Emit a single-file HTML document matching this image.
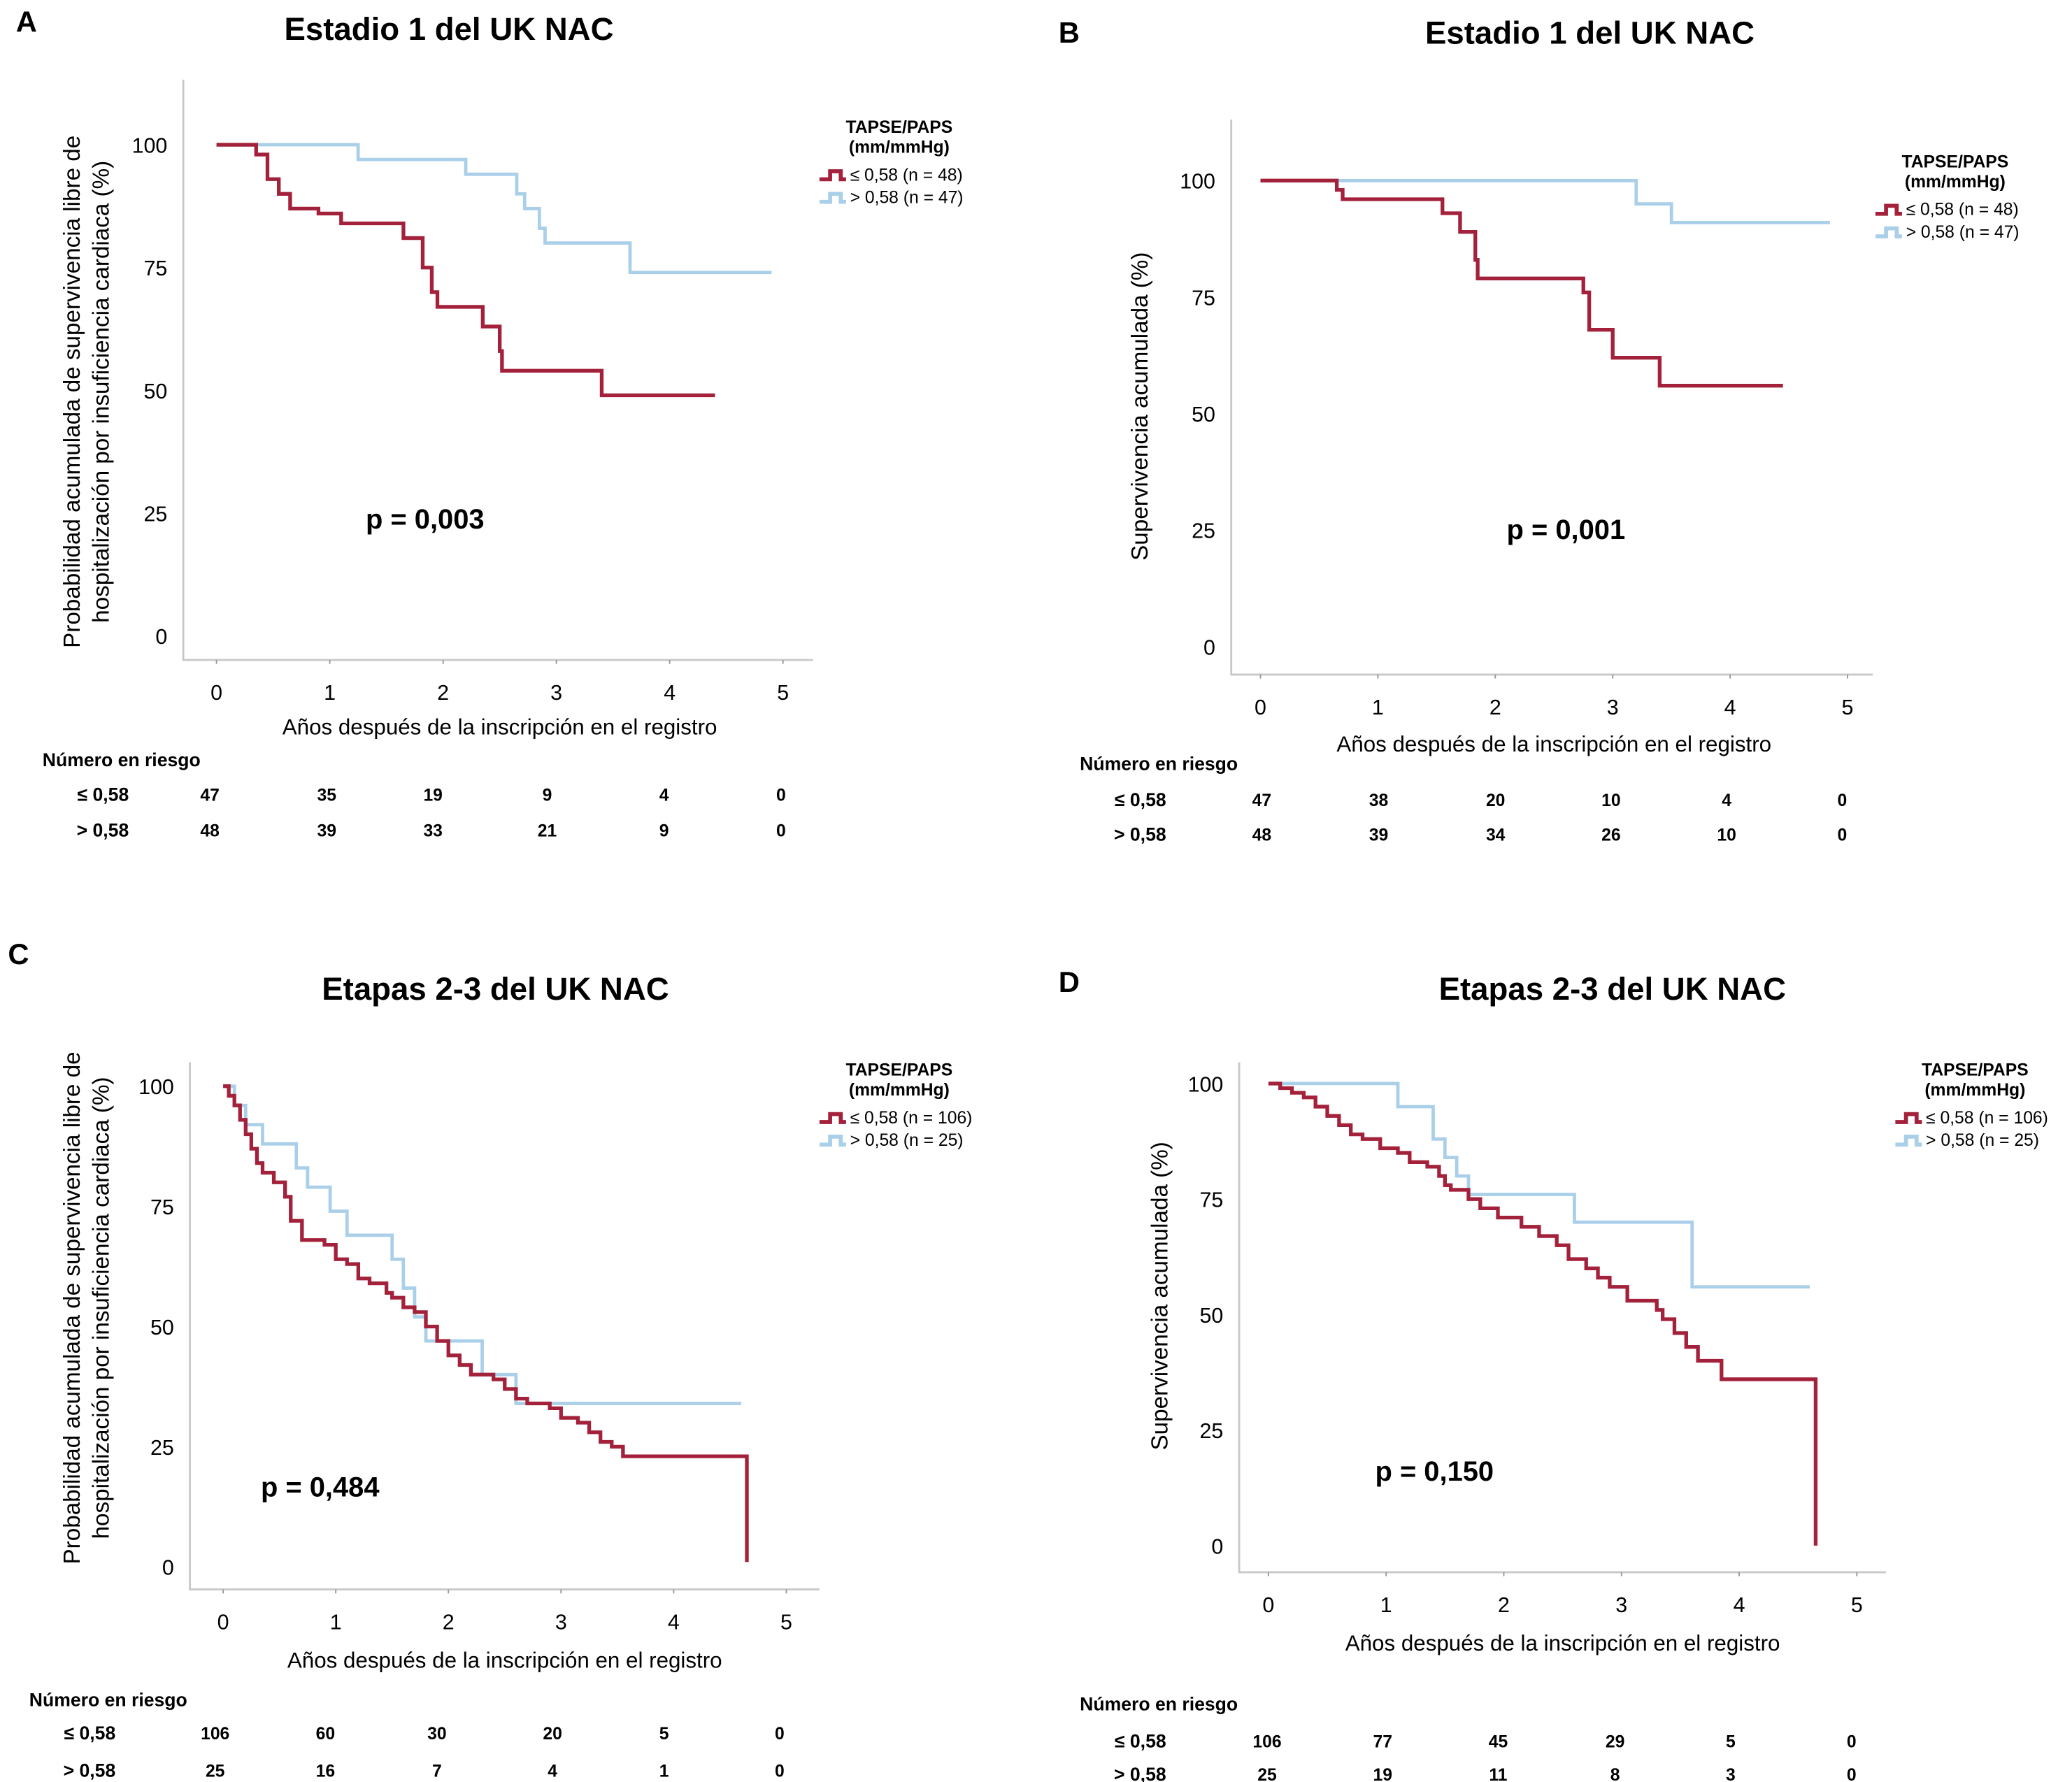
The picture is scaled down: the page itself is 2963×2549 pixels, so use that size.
<!DOCTYPE html>
<html><head><meta charset="utf-8"><style>
html,body{margin:0;padding:0;background:#fff}
svg{display:block;font-family:"Liberation Sans",Arial,sans-serif}
</style></head><body>
<svg id="fig" width="2963" height="2549" viewBox="0 0 1560 1342" preserveAspectRatio="none" xmlns="http://www.w3.org/2000/svg"></svg>
<script>
// ---- data ----
const xTicks = [0,1,2,3,4,5];
const yTicks = [0,25,50,75,100];
const aRedT = [0,0.35,0.45,0.55,0.65,0.9,1.1,1.65,1.82,1.9,1.95,2.35,2.5,2.52,3.4,4.4];
const aRedS = [100,98,93,90,87,86,84,81,75,70,67,63,58,54,49,49];
const aBlueT = [0,1.25,2.2,2.65,2.72,2.85,2.9,3.65,4.9];
const aBlueS = [100,97,94,90,87,83,80,74,74];
const bRedT = [0,0.65,0.7,1.55,1.7,1.83,1.85,2.75,2.8,3.0,3.4,4.45];
const bRedS = [100,98,96,93,89,83,79,76,68,62,56,56];
const bBlueT = [0,3.2,3.5,4.85];
const bBlueS = [100,95,91,91];
const cRedT = [0,0.05,0.1,0.15,0.2,0.25,0.3,0.35,0.45,0.55,0.6,0.7,0.9,1.0,1.1,1.2,1.3,1.45,1.5,1.6,1.7,1.8,1.9,2.0,2.1,2.2,2.4,2.5,2.6,2.7,2.9,3.0,3.15,3.25,3.35,3.45,3.55,4.65];
const cRedS = [100,98,96,93,90,87,84,82,80,77,72,68,67,64,63,60,59,57,56,54,53,50,47,44,42,40,39,37,35,34,33,31,30,28,26,25,23,1];
const cBlueT = [0,0.1,0.2,0.35,0.65,0.75,0.95,1.1,1.5,1.6,1.7,1.8,2.3,2.6,4.6];
const cBlueS = [100,96,92,88,83,79,74,69,64,58,52,47,40,34,34];
const dRedT = [0,0.1,0.2,0.3,0.4,0.5,0.6,0.7,0.8,0.95,1.1,1.2,1.35,1.45,1.5,1.55,1.7,1.8,1.95,2.15,2.3,2.45,2.55,2.7,2.8,2.9,3.05,3.3,3.35,3.45,3.55,3.65,3.85,4.65];
const dRedS = [100,99,98,97,95,93,91,89,88,86,85,83,82,80,78,77,75,73,71,69,67,65,62,60,58,56,53,51,49,46,43,40,36,0];
const dBlueT = [0,1.1,1.4,1.5,1.6,1.7,2.6,3.6,4.6];
const dBlueS = [100,95,88,84,80,76,70,56,56];
const aRiskLow = ["47","35","19","9","4","0"];
const aRiskHigh = ["48","39","33","21","9","0"];
const bRiskLow = ["47","38","20","10","4","0"];
const bRiskHigh = ["48","39","34","26","10","0"];
const cRiskLow = ["106","60","30","20","5","0"];
const cRiskHigh = ["25","16","7","4","1","0"];
const dRiskLow = ["106","77","45","29","5","0"];
const dRiskHigh = ["25","19","11","8","3","0"];

const NS="http://www.w3.org/2000/svg";
const svg=document.getElementById('fig');
function el(tag,attrs,parent,text){const e=document.createElementNS(NS,tag);for(const k in attrs)e.setAttribute(k,attrs[k]);if(text!==undefined)e.textContent=text;(parent||svg).appendChild(e);return e;}

const panels=[
 {id:'a',letter:'A',lx:12,ly:24,title:'Estadio 1 del UK NAC',tx:338,ty:30,x0:163,xs:85.3,y100:109,y0:479,axL:138,axT:60,axB:497,axR:612,
  red:[aRedT,aRedS],blue:[aBlueT,aBlueS],p:'p = 0,003',px:320,py:398,
  ytitle:['Probabilidad acumulada de supervivencia libre de','hospitalización por insuficiencia cardiaca (%)'],ytx:[60,82],yty:295,
  xtitleY:553,legX:615,legY:100,nBlue:'47',nRed:'48',riskY:577,riskR1:603,riskR2:630,riskLabX:32,risk:[aRiskLow,aRiskHigh],riskXs:[158,246,326,412,500,588]},
 {id:'b',letter:'B',lx:797,ly:32,title:'Estadio 1 del UK NAC',tx:1197,ty:33,x0:949,xs:88.4,y100:136,y0:487,axL:927,axT:90,axB:508,axR:1410,
  red:[bRedT,bRedS],blue:[bBlueT,bBlueS],p:'p = 0,001',px:1179,py:406,
  ytitle:['Supervivencia acumulada (%)'],ytx:[864],yty:306,
  xtitleY:566,legX:1410,legY:126,nBlue:'47',nRed:'48',riskY:580,riskR1:607,riskR2:633,riskLabX:813,risk:[bRiskLow,bRiskHigh],riskXs:[950,1038,1126,1213,1300,1387]},
 {id:'c',letter:'C',lx:6,ly:726,title:'Etapas 2-3 del UK NAC',tx:373,ty:753,x0:168,xs:84.8,y100:818,y0:1180,axL:143,axT:800,axB:1197,axR:617,
  red:[cRedT,cRedS],blue:[cBlueT,cBlueS],p:'p = 0,484',px:241,py:1127,
  ytitle:['Probabilidad acumulada de supervivencia libre de','hospitalización por insuficiencia cardiaca (%)'],ytx:[60,82],yty:985,
  xtitleY:1256,legX:615,legY:810,nBlue:'25',nRed:'106',riskY:1285,riskR1:1310,riskR2:1338,riskLabX:22,risk:[cRiskLow,cRiskHigh],riskXs:[162,245,329,416,500,587]},
 {id:'d',letter:'D',lx:797,ly:747,title:'Etapas 2-3 del UK NAC',tx:1214,ty:753,x0:955,xs:88.6,y100:816,y0:1164,axL:933,axT:800,axB:1184,axR:1420,
  red:[dRedT,dRedS],blue:[dBlueT,dBlueS],p:'p = 0,150',px:1080,py:1115,
  ytitle:['Supervivencia acumulada (%)'],ytx:[879],yty:976,
  xtitleY:1243,legX:1425,legY:810,nBlue:'25',nRed:'106',riskY:1288,riskR1:1316,riskR2:1341,riskLabX:813,risk:[dRiskLow,dRiskHigh],riskXs:[954,1041,1128,1216,1303,1394]}
];

function stepPath(T,S,xf,yf){let d='M'+xf(T[0])+','+yf(S[0]);for(let i=1;i<T.length;i++){d+=' H'+xf(T[i])+' V'+yf(S[i]);}return d;}

panels.forEach(p=>{
  const g=el('g',{});
  
  
  const xf=t=>p.x0+t*p.xs, yf=s=>p.y0-(p.y0-p.y100)*s/100;
  const lt=el('text',{x:p.lx,y:p.ly,'font-size':22,'font-weight':'bold'},g,p.letter);
  
  const tt=el('text',{x:p.tx,y:p.ty,'font-size':24,'font-weight':'bold','text-anchor':'middle'},g,p.title);
  
  const ax=el('path',{d:`M${p.axL},${p.axT} V${p.axB} H${p.axR}`,fill:'none',stroke:'#c8c8c8','stroke-width':1.5},g);
  
  xTicks.forEach(t=>{
    el('line',{x1:xf(t),x2:xf(t),y1:p.axB,y2:p.axB+3,stroke:'#999'},g);
    const tl=el('text',{x:xf(t),y:p.axB+30,'font-size':16,'text-anchor':'middle'},g,String(t));
    
  });
  yTicks.forEach(v=>{
    const tl=el('text',{x:p.axL-12,y:yf(v)+6,'font-size':16,'text-anchor':'end'},g,String(v));
    
  });
  p.ytitle.forEach((s,i)=>{
    const yt=el('text',{x:p.ytx[i],y:p.yty,'font-size':17.5,'text-anchor':'middle',transform:`rotate(-90 ${p.ytx[i]} ${p.yty})`},g,s);
    
  });
  const xt=el('text',{x:(xf(0)+xf(5))/2,y:p.xtitleY,'font-size':16.5,'text-anchor':'middle'},g,'Años después de la inscripción en el registro');
  
  const bl=el('path',{d:stepPath(p.blue[0],p.blue[1],xf,yf),fill:'none',stroke:'#a9cfe9','stroke-width':2.5},g);
  
  const rd=el('path',{d:stepPath(p.red[0],p.red[1],xf,yf),fill:'none',stroke:'#a3213a','stroke-width':2.8},g);
  
  const pv=el('text',{x:p.px,y:p.py,'font-size':21,'font-weight':'bold','text-anchor':'middle'},g,p.p);
  
  const lg=el('g',{},g);
  
  el('text',{x:p.legX+62,y:p.legY,'font-size':13,'font-weight':'bold','text-anchor':'middle'},lg,'TAPSE/PAPS');
  el('text',{x:p.legX+62,y:p.legY+15,'font-size':13,'font-weight':'bold','text-anchor':'middle'},lg,'(mm/mmHg)');
  const ly1=p.legY+35, ly2=p.legY+52;
  el('path',{d:`M${p.legX+2},${ly1} h8 v-6 h8 v6 h4`,fill:'none',stroke:'#a3213a','stroke-width':3},lg);
  el('text',{x:p.legX+25,y:ly1+1,'font-size':13},lg,'≤ 0,58 (n = '+p.nRed+')');
  el('path',{d:`M${p.legX+2},${ly2} h8 v-6 h8 v6 h4`,fill:'none',stroke:'#a9cfe9','stroke-width':3},lg);
  el('text',{x:p.legX+25,y:ly2+1,'font-size':13},lg,'> 0,58 (n = '+p.nBlue+')');
  const rt=el('g',{},g);
  
  el('text',{x:p.riskLabX,y:p.riskY,'font-size':14,'font-weight':'bold'},rt,'Número en riesgo');
  el('text',{x:p.riskLabX+65,y:p.riskR1,'font-size':14,'font-weight':'bold','text-anchor':'end'},rt,'≤ 0,58');
  el('text',{x:p.riskLabX+65,y:p.riskR2,'font-size':14,'font-weight':'bold','text-anchor':'end'},rt,'> 0,58');
  p.risk[0].forEach((v,i)=>el('text',{x:p.riskXs[i],y:p.riskR1,'font-size':13,'font-weight':'bold','text-anchor':'middle'},rt,v));
  p.risk[1].forEach((v,i)=>el('text',{x:p.riskXs[i],y:p.riskR2,'font-size':13,'font-weight':'bold','text-anchor':'middle'},rt,v));
});
</script>
</body></html>
